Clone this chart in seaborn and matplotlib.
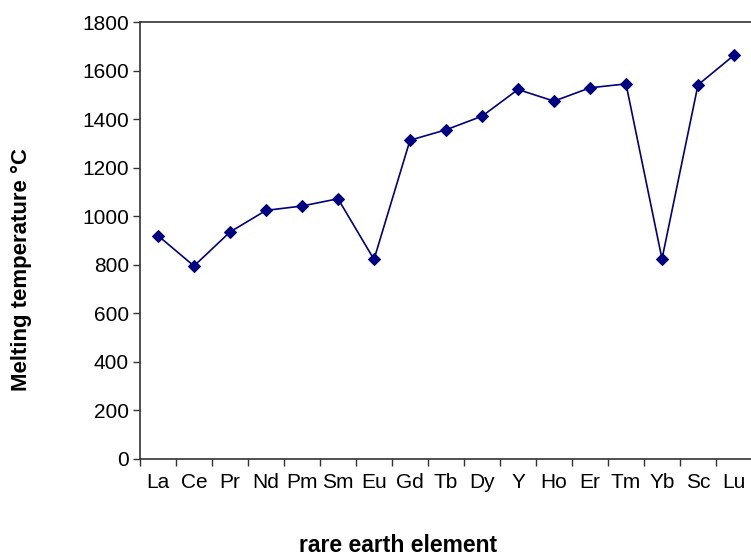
import matplotlib
matplotlib.use('Agg')
import matplotlib.pyplot as plt
from matplotlib.ticker import FixedLocator, MultipleLocator
import seaborn as sns
import pandas as pd
import numpy as np

elements = ['La', 'Ce', 'Pr', 'Nd', 'Pm', 'Sm', 'Eu', 'Gd', 'Tb', 'Dy',
            'Y', 'Ho', 'Er', 'Tm', 'Yb', 'Sc', 'Lu']
melting_c = [920, 795, 935, 1024, 1042, 1072, 822, 1313, 1356, 1412,
             1522, 1474, 1529, 1545, 824, 1541, 1663]

sns.set_style('white')
plt.rcParams['font.family'] = ['Liberation Sans', 'DejaVu Sans']
plt.rcParams['text.color'] = 'black'
plt.rcParams['axes.labelcolor'] = 'black'
plt.rcParams['xtick.color'] = 'black'
plt.rcParams['ytick.color'] = 'black'

df = pd.DataFrame({'element': elements, 'melting': melting_c})
df['pos'] = np.arange(len(elements))

fig = plt.figure(figsize=(7.51, 5.6), dpi=100)
ax = fig.add_axes([140 / 751, 1 - 459 / 560, 612 / 751, 437 / 560])

sns.lineplot(data=df, x='pos', y='melting', ax=ax, color='#000080',
             marker='D', markersize=6, markeredgecolor='#000080',
             linewidth=1.2, sort=False)

ax.set_xlim(-0.5, len(elements) - 0.5)
ax.set_ylim(0, 1800)
ax.yaxis.set_major_locator(MultipleLocator(200))

# ticks between categories, labels centred on categories
ax.xaxis.set_major_locator(FixedLocator(np.arange(len(elements) + 1) - 0.5))
ax.xaxis.set_minor_locator(FixedLocator(df['pos']))
ax.set_xticklabels([], minor=False)
ax.set_xticklabels(elements, minor=True)
ax.tick_params(axis='x', which='major', direction='out', length=5, width=1, color='#333333', bottom=True)
ax.tick_params(axis='x', which='minor', length=0, labelsize=15, pad=10, bottom=True)
ax.tick_params(axis='y', direction='out', length=5, width=1, color='#333333', labelsize=15, left=True, pad=3)

for side in ['left', 'bottom', 'top', 'right']:
    ax.spines[side].set_color('#333333')
    ax.spines[side].set_linewidth(1.2)

ax.set_xlabel('rare earth element', fontsize=16.5, fontweight='bold')
ax.set_ylabel('Melting temperature °C', fontsize=16, fontweight='bold')
ax.xaxis.set_label_coords(0.4216, -0.197)
ax.yaxis.set_label_coords(-0.193, 0.4325)
ax.xaxis.label.set_va('center')
ax.yaxis.label.set_va('center')

fig.savefig('out.png', dpi=100)
